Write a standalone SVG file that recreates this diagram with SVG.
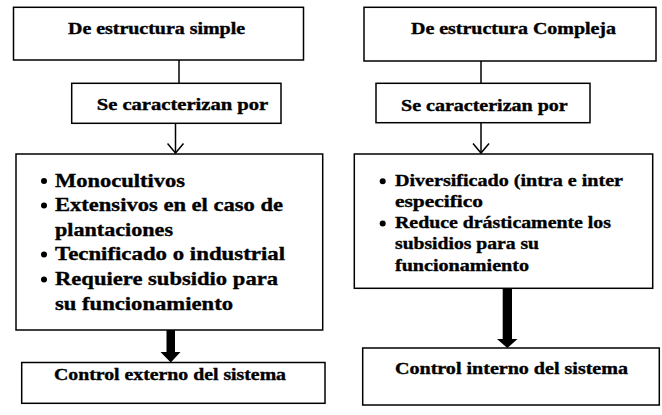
<svg xmlns="http://www.w3.org/2000/svg" width="662" height="415" viewBox="0 0 662 415">
  <style>
    .box { fill: #ffffff; stroke: #000000; stroke-width: 1.5; }
    .ln { stroke: #000000; stroke-width: 1.5; fill: none; }
    .thick { fill: #000000; stroke: none; }
    text { font-family: 'Liberation Serif', Tinos, 'Times New Roman', serif; font-weight: 700; fill: #000000; stroke: #000000; stroke-width: 0.35; }
  </style>
  <defs>
    <marker id="vhead" markerUnits="userSpaceOnUse" viewBox="0 0 12 18" markerWidth="12" markerHeight="18" refX="10.5" refY="9" orient="auto">
      <path d="M1,1 L10.5,9 L1,17" fill="none" stroke="#000000" stroke-width="1.5"/>
    </marker>
  </defs>
  <rect width="662" height="415" fill="#ffffff"/>

  <g id="connectors">
    <line class="ln" x1="179" y1="60" x2="179" y2="83.3"/>
    <line class="ln" x1="175.5" y1="123.3" x2="175.5" y2="153" marker-end="url(#vhead)"/>
    <polygon class="thick" points="166.5,330 175,330 175,352 180.5,352 170.75,362.5 160.5,352 166.5,352"/>
    <line class="ln" x1="481" y1="61" x2="481" y2="83.3"/>
    <line class="ln" x1="481" y1="122.7" x2="481" y2="153" marker-end="url(#vhead)"/>
    <polygon class="thick" points="502.7,288.3 512,288.3 512,339 517.5,339 507.3,348 497,339 502.7,339"/>
  </g>

  <g id="left-title">
    <rect class="box" x="13.5" y="7.3" width="290" height="52.7"/>
    <text font-size="16" x="68" y="33.5" textLength="177" lengthAdjust="spacingAndGlyphs">De estructura simple</text>
  </g>
  <g id="left-caracterizan">
    <rect class="box" x="71.7" y="83.3" width="209.3" height="40"/>
    <text font-size="16" x="96.7" y="110" textLength="171.5" lengthAdjust="spacingAndGlyphs">Se caracterizan por</text>
  </g>
  <g id="left-list" font-size="19">
    <rect class="box" x="16" y="154" width="306.7" height="176"/>
    <circle cx="44" cy="181" r="3"/>
    <text x="55" y="186.5" textLength="130" lengthAdjust="spacingAndGlyphs">Monocultivos</text>
    <circle cx="44" cy="205.5" r="3"/>
    <text x="55" y="211" textLength="228" lengthAdjust="spacingAndGlyphs">Extensivos en el caso de</text>
    <text x="55" y="235.5" textLength="118" lengthAdjust="spacingAndGlyphs">plantaciones</text>
    <circle cx="44" cy="254.5" r="3"/>
    <text x="55" y="260" textLength="230" lengthAdjust="spacingAndGlyphs">Tecnificado o industrial</text>
    <circle cx="44" cy="279.5" r="3"/>
    <text x="55" y="285" textLength="223" lengthAdjust="spacingAndGlyphs">Requiere subsidio para</text>
    <text x="55" y="309.5" textLength="178" lengthAdjust="spacingAndGlyphs">su funcionamiento</text>
  </g>
  <g id="left-control">
    <rect class="box" x="21.7" y="362.5" width="303.3" height="40.8"/>
    <text font-size="16" x="54" y="380" textLength="232" lengthAdjust="spacingAndGlyphs">Control externo del sistema</text>
  </g>

  <g id="right-title">
    <rect class="box" x="364" y="7.3" width="292" height="53.7"/>
    <text font-size="16" x="411" y="33.5" textLength="205" lengthAdjust="spacingAndGlyphs">De estructura Compleja</text>
  </g>
  <g id="right-caracterizan">
    <rect class="box" x="376" y="83.3" width="214" height="39.4"/>
    <text font-size="16" x="401" y="110.5" textLength="166.7" lengthAdjust="spacingAndGlyphs">Se caracterizan por</text>
  </g>
  <g id="right-list" font-size="17">
    <rect class="box" x="354.3" y="154" width="298.4" height="134.3"/>
    <circle cx="382.7" cy="181.3" r="3"/>
    <text x="395" y="185.7" textLength="228" lengthAdjust="spacingAndGlyphs">Diversificado (intra e inter</text>
    <text x="395" y="206.5" textLength="88" lengthAdjust="spacingAndGlyphs">especifico</text>
    <circle cx="382.7" cy="223.5" r="3"/>
    <text x="395" y="228" textLength="216" lengthAdjust="spacingAndGlyphs">Reduce drásticamente los</text>
    <text x="395" y="249" textLength="144" lengthAdjust="spacingAndGlyphs">subsidios para su</text>
    <text x="395" y="270.5" textLength="134" lengthAdjust="spacingAndGlyphs">funcionamiento</text>
  </g>
  <g id="right-control">
    <rect class="box" x="362.7" y="348" width="296.6" height="57"/>
    <text font-size="16" x="395" y="373.5" textLength="233" lengthAdjust="spacingAndGlyphs">Control interno del sistema</text>
  </g>
</svg>
